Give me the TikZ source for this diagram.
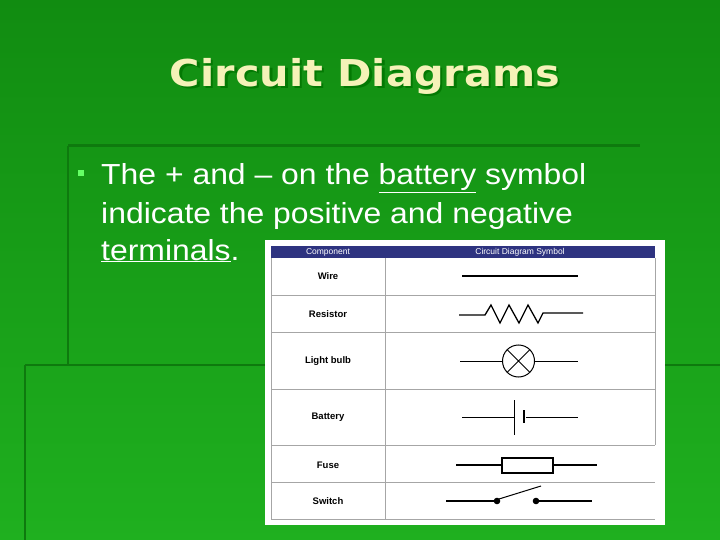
\documentclass[tikz,border=0pt]{standalone}
\usepackage{fontspec}
\setmainfont{Liberation Sans}
\newfontfamily\titlefont{DejaVu Sans}
\definecolor{bgtop}{HTML}{118C11}
\definecolor{bgbot}{HTML}{1FB01F}
\definecolor{titlec}{HTML}{F5F2B8}
\definecolor{navy}{HTML}{2E3380}
\definecolor{faint}{HTML}{0E7A0E}
\tikzset{
  sym/.style={line width=1.3pt,black},
  grid/.style={line width=0.6pt,gray!70},
  cell/.style={font=\fontsize{9.5}{10}\selectfont\bfseries},
  hdr/.style={font=\fontsize{8.5}{10}\selectfont,white},
  body/.style={font=\fontsize{29}{38}\selectfont,white,anchor=base west,inner sep=0pt,xscale=1.1},
  ttl/.style={font=\titlefont\fontsize{37}{40}\selectfont\bfseries,xscale=1.12},
}
\begin{document}
\begin{tikzpicture}[x=1pt,y=-1pt]
\useasboundingbox (0,0) rectangle (720,540);
\shade[top color=bgtop,bottom color=bgbot] (0,0) rectangle (720,540);
% faint frame lines
\draw[faint,line width=3pt] (68,146) -- (640,146);
\draw[faint,line width=2pt] (68,146) -- (68,365);
\draw[faint,line width=2pt] (25,365) -- (720,365);
\draw[faint,line width=2pt] (25,365) -- (25,540);
% title
\node[ttl,text=black!55!green,opacity=0.8] (tshadow) at (367.5,78.5) {Circuit Diagrams};
\node[ttl,text=titlec] (title) at (365,76) {Circuit Diagrams};
% bullet
\fill[green!60!white] (78,170) rectangle (84,176);
\node[body] (l1) at (101,185) {The + and – on the \underline{battery} symbol};
\node[body] (l2) at (101,223) {indicate the positive and negative};
\node[body] (l3) at (101,260) {\underline{terminals}.};
% table
\fill[white] (265,240) rectangle (665,525);
\fill[navy] (271,246) rectangle (655,258);
\node[hdr] (h1) at (328,252) {Component};
\node[hdr] (h2) at (520,252) {Circuit Diagram Symbol};
\draw[grid] (271,258) -- (271,519) -- (655,519);
\draw[grid] (385,258) -- (385,519);
\draw[grid] (655,258) -- (655,445);
\foreach \y in {295,332,389,445,482} \draw[grid] (271,\y) -- (655,\y);
\node[cell] (c1) at (328,276) {Wire};
\node[cell] (c2) at (328,314) {Resistor};
\node[cell] (c3) at (328,361) {Light bulb};
\node[cell] (c4) at (328,417) {Battery};
\node[cell] (c5) at (328,465) {Fuse};
\node[cell] (c6) at (328,501) {Switch};
% wire
\draw[sym] (462,276) -- (578,276);
% resistor
\draw[sym,line join=miter] (459,315) -- (485,315) -- (491,305) -- (500,323) -- (509,305) -- (519,323) -- (528,305) -- (538,323) -- (543,313) -- (583,313);
% bulb
\draw[sym,line width=1pt] (460,361) -- (502,361) (535,361) -- (578,361);
\draw[sym,line width=1pt] (518.5,361) circle (16);
\draw[sym,line width=1pt] (518.5,361) ++(45:16) -- ++(225:32) (518.5,361) ++(135:16) -- ++(-45:32);
% battery
\draw[sym,line width=1pt] (462,417) -- (514,417) (514,400) -- (514,435);
\draw[sym,line width=1.6pt] (524,410) -- (524,423);
\draw[sym,line width=1pt] (526,417) -- (578,417);
% fuse
\draw[sym] (456,465) -- (502,465) (553,465) -- (597,465);
\draw[sym] (502,458) rectangle (553,473);
% switch
\draw[sym] (446,501) -- (497,501) (536,501) -- (592,501);
\fill (497,501) circle (3.3) (536,501) circle (3.3);
\draw[sym,line width=1pt] (499,499) -- (541,486);
\end{tikzpicture}
\end{document}
